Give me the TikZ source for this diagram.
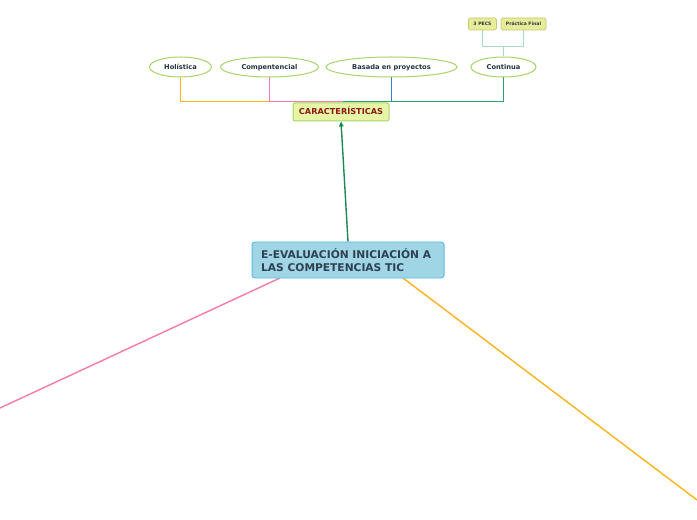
\documentclass[tikz,border=0pt]{standalone}
\usepackage{fontspec}
\setmainfont{DejaVu Sans}
\usetikzlibrary{shapes.geometric,arrows.meta}
\definecolor{cblue}{HTML}{9FD5E5}
\definecolor{cbluedraw}{HTML}{5BBDE2}
\definecolor{ctext}{HTML}{2E4152}
\definecolor{cyel}{HTML}{E6F6A6}
\definecolor{cyeldraw}{HTML}{A8D46A}
\definecolor{cred}{HTML}{8B1A1A}
\definecolor{cgreen}{HTML}{1A8A50}
\definecolor{corange}{HTML}{F8B41A}
\definecolor{cpink}{HTML}{F47AA8}
\definecolor{cbluel}{HTML}{3A80D0}
\definecolor{cgreenl}{HTML}{2FA070}
\definecolor{cmint}{HTML}{A8DCC0}
\definecolor{csmall}{HTML}{E8EC98}
\definecolor{csmalldraw}{HTML}{C4C870}
\definecolor{cellip}{HTML}{A8D46A}
\begin{document}
\begin{tikzpicture}[x=1bp,y=-1bp,
  ell/.style={ellipse,draw=cellip,line width=1bp,fill=white,inner sep=0pt,font=\bfseries\fontsize{6.7}{7}\selectfont,text=ctext!80!black,minimum height=20bp,text height=4.9pt,text depth=0pt},
  small/.style={rectangle,rounded corners=1.5pt,draw=csmalldraw,fill=csmall,line width=0.6pt,font=\bfseries\fontsize{4.6}{6}\selectfont,text=ctext!80!black,inner sep=0pt,minimum height=12bp,text height=3.4pt,text depth=0pt},
  conn/.style={line width=1.7bp}]
\useasboundingbox (0,0) rectangle (697,520);
\fill[white] (0,0) rectangle (697,520);
% long lines
\coordinate (pl) at (0,408);
\coordinate (or) at (697,500);
\draw[cpink,line width=1.4pt] (280,278) -- (pl);
\draw[corange,line width=1.4pt] (403,278) -- (or);
% central node
\node[rectangle,rounded corners=3pt,draw=cbluedraw,fill=cblue,line width=1pt,minimum width=192bp,minimum height=36bp,inner sep=0pt] (main) at (348,260) {};
\node[anchor=west,align=left,font=\bfseries\fontsize{10.7}{12.5}\selectfont,text=ctext,inner sep=0pt] (mt) at (261,260) {E-EVALUACIÓN INICIACIÓN A\\LAS COMPETENCIAS TIC};
% caracteristicas
\node[rectangle,rounded corners=2pt,draw=cyeldraw,fill=cyel,line width=1pt,minimum width=96bp,minimum height=18bp,inner sep=0pt,font=\bfseries\fontsize{8.2}{8}\selectfont,text=cred,text height=5.9pt,text depth=0pt] (car) at (341,112) {CARACTERÍSTICAS};
\draw[cgreen,line width=1.4pt,-{Triangle[length=5pt,width=4.5pt]}] (main.north) -- (car.south);
% ellipses
\node[ell,minimum width=62bp] (hol) at (180.5,67) {Holística};
\node[ell,minimum width=98bp] (com) at (269.5,67) {Compentencial};
\node[ell,minimum width=131bp] (bas) at (391.5,67) {Basada en proyectos};
\node[ell,minimum width=65bp] (con) at (503.5,67) {Continua};
\coordinate (cj) at (342.5,101.5);
\draw[corange,conn] (hol.south) |- (cj);
\draw[cpink,conn] (com.south) |- (cj);
\draw[cbluel,conn] (bas.south) |- (cj);
\draw[cgreenl,conn] (con.south) |- (cj);
% small
\node[small,minimum width=28bp] (pecs) at (482.5,24) {3 PECS};
\node[small,minimum width=45bp] (pra) at (523.5,24) {Práctica Final};
\coordinate (sj) at (503.5,46.5);
\draw[cmint,conn] (con.north) -- (sj);
\draw[cmint,conn] (pecs.south) |- (sj);
\draw[cmint,conn] (pra.south) |- (sj);
\end{tikzpicture}
\end{document}
